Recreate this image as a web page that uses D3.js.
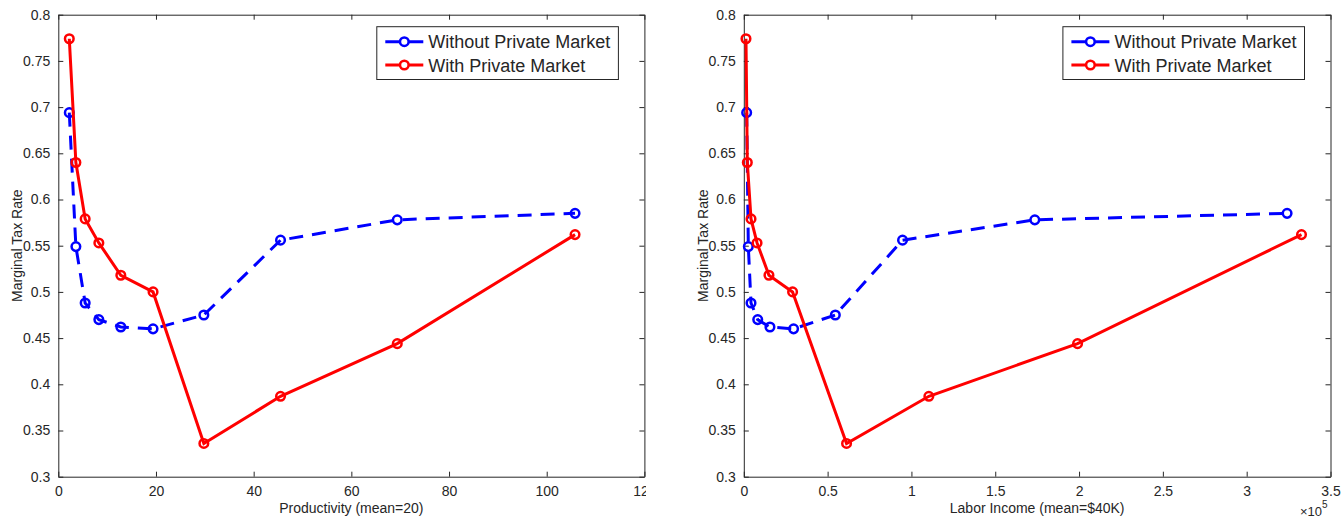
<!DOCTYPE html>
<html><head><meta charset="utf-8">
<script src="https://cdn.jsdelivr.net/npm/d3@7"></script>
<style>
html,body{margin:0;padding:0;background:#fff;}
svg{display:block;}
text{font-family:"Liberation Sans",Arial,sans-serif;fill:#262626;}
</style></head>
<body>
<svg id="chart" width="1341" height="518"></svg>
<script>
// ---- data ----
const productivity = [2.25, 3.6, 5.5, 8.3, 12.8, 19.4, 29.8, 45.5, 69.4, 105.8];
const mtrWithout   = [0.694, 0.549, 0.488, 0.470, 0.462, 0.460, 0.475, 0.556, 0.578, 0.585];
const mtrWith      = [0.774, 0.640, 0.579, 0.553, 0.518, 0.500, 0.336, 0.387, 0.444, 0.562];
const incomeWithout = [1700, 2700, 4300, 8300, 15600, 29700, 54600, 94700, 173600, 324100];
const incomeWith    = [1300, 2100, 4300, 7900, 15000, 29100, 61300, 110400, 199100, 332700];
const seriesNames = ["Without Private Market", "With Private Market"];
const yTicks = [0.3, 0.35, 0.4, 0.45, 0.5, 0.55, 0.6, 0.65, 0.7, 0.75, 0.8];
const xTicksProd = [0, 20, 40, 60, 80, 100, 120];
const xTicksInc = [0, 50000, 100000, 150000, 200000, 250000, 300000, 350000];

const svg = d3.select("#chart");
const axisColor = "#262626";
const plotTop = 14.7, plotBottom = 476.7;

function panel(opts) {
  const g = svg.append("g");
  if (opts.clipRight) {
    const id = "clip" + Math.round(opts.x0);
    svg.append("defs").append("clipPath").attr("id", id)
      .append("rect").attr("x", 0).attr("y", 0).attr("width", opts.clipRight).attr("height", 518);
    g.attr("clip-path", `url(#${id})`);
  }
  const x = d3.scaleLinear().domain(opts.xDomain).range([opts.x0, opts.x1]);
  const y = d3.scaleLinear().domain([0.3, 0.8]).range([plotBottom, plotTop]);

  const ax = (sel) => sel.selectAll("path,line").attr("stroke", axisColor);
  const txt = (sel) => sel.selectAll("text").attr("font-size", 14).attr("fill", axisColor)
      .attr("font-family", '"Liberation Sans",Arial,sans-serif');
  g.append("g").attr("transform", `translate(0,${plotBottom})`)
    .call(d3.axisBottom(x).tickValues(opts.xTicks).tickSize(-5).tickSizeOuter(0).tickPadding(9).tickFormat(opts.xFormat))
    .call(ax).call(txt);
  g.append("g").attr("transform", `translate(0,${plotTop})`)
    .call(d3.axisTop(x).tickValues(opts.xTicks).tickSize(-5).tickSizeOuter(0).tickFormat(""))
    .call(ax);
  g.append("g").attr("transform", `translate(${opts.x0},0)`)
    .call(d3.axisLeft(y).tickValues(yTicks).tickSize(-5).tickSizeOuter(0).tickPadding(8).tickFormat(d => String(+d.toFixed(2))))
    .call(ax).call(txt);
  g.append("g").attr("transform", `translate(${opts.x1},0)`)
    .call(d3.axisRight(y).tickValues(yTicks).tickSize(-5).tickSizeOuter(0).tickFormat(""))
    .call(ax);
  g.selectAll(".domain").attr("stroke", axisColor).attr("stroke-width", 1);

  const series = [
    {xs: opts.xsWithout, ys: mtrWithout, color: "#0000ff", dash: "14,9"},
    {xs: opts.xsWith, ys: mtrWith, color: "#ff0000", dash: null}
  ];
  const line = d3.line().x(d => x(d[0])).y(d => y(d[1]));
  series.forEach(s => {
    const pts = s.xs.map((v, i) => [v, s.ys[i]]);
    g.append("path").datum(pts).attr("d", line).attr("fill", "none")
      .attr("stroke", s.color).attr("stroke-width", 3)
      .attr("stroke-dasharray", s.dash);
    g.selectAll(null).data(pts).enter().append("circle")
      .attr("cx", d => x(d[0])).attr("cy", d => y(d[1])).attr("r", 4.3)
      .attr("fill", "none").attr("stroke", s.color).attr("stroke-width", 2.5);
  });

  g.append("text").attr("x", (opts.x0 + opts.x1) / 2).attr("y", 513)
    .attr("text-anchor", "middle").attr("font-size", 14).text(opts.xLabel);
  g.append("text").attr("transform", `translate(${opts.x0 - 36},${(plotTop + plotBottom) / 2}) rotate(-90)`)
    .attr("text-anchor", "middle").attr("font-size", 14).text("Marginal Tax Rate");

  const lx = opts.x1 - 26 - 241.6, ly = 26.7;
  const lg = svg.append("g");
  lg.append("rect").attr("x", lx).attr("y", ly).attr("width", 241.6).attr("height", 52.8)
    .attr("fill", "#fff").attr("stroke", axisColor).attr("stroke-width", 1);
  series.forEach((s, i) => {
    const cy = ly + 15 + i * 23.3;
    lg.append("line").attr("x1", lx + 8.5).attr("x2", lx + 46.5).attr("y1", cy).attr("y2", cy)
      .attr("stroke", s.color).attr("stroke-width", 3);
    lg.append("circle").attr("cx", lx + 27.5).attr("cy", cy).attr("r", 4.3)
      .attr("fill", "#fff").attr("stroke", s.color).attr("stroke-width", 2.5);
    lg.append("text").attr("x", lx + 51.5).attr("y", cy + 6.5).attr("font-size", 18)
      .attr("fill", "#000").text(seriesNames[i]);
  });
  return g;
}

panel({x0: 58.3, x1: 644.4, xDomain: [0, 120], xTicks: xTicksProd, xFormat: d => String(d),
  xsWithout: productivity, xsWith: productivity, xLabel: "Productivity (mean=20)", clipRight: 646});
panel({x0: 743.8, x1: 1330.5, xDomain: [0, 350000], xTicks: xTicksInc, xFormat: d => String(d / 1e5),
  xsWithout: incomeWithout, xsWith: incomeWith, xLabel: "Labor Income (mean=$40K)"});

const ex = svg.append("text").attr("x", 1300).attr("y", 516).attr("font-size", 13);
ex.append("tspan").text("×10");
ex.append("tspan").attr("dy", -8).attr("font-size", 10).text("5");
</script>
</body></html>
